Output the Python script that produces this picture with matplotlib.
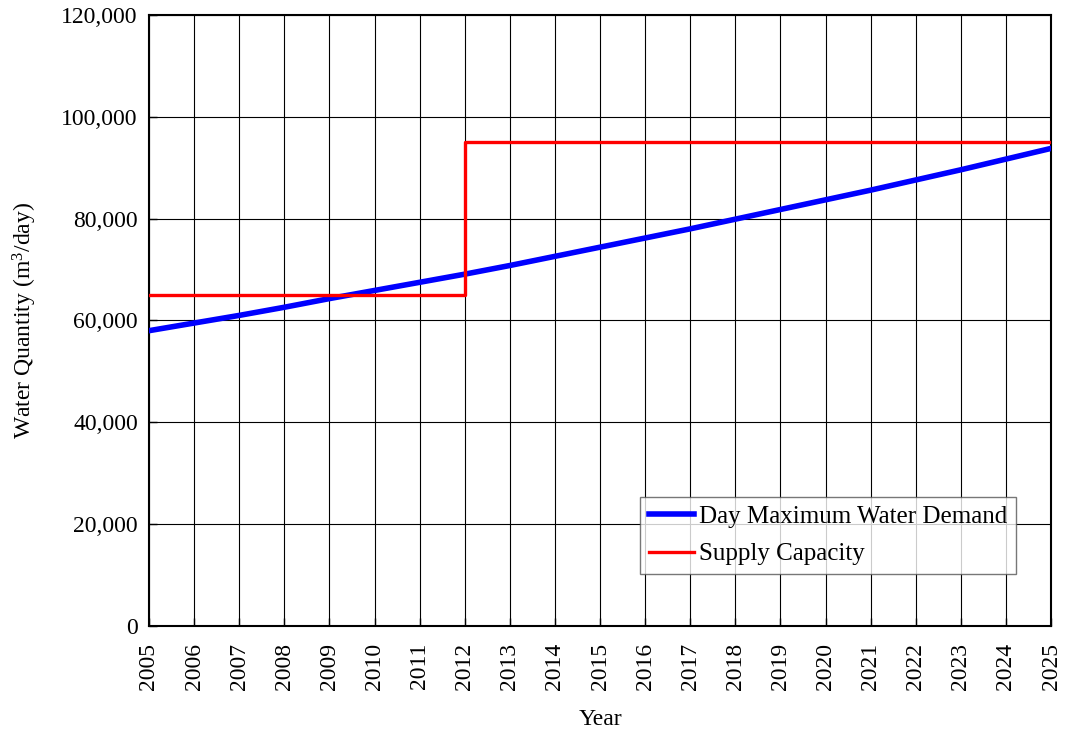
import matplotlib
matplotlib.use('agg')
import matplotlib.pyplot as plt
from matplotlib.ticker import FuncFormatter

# data
years = list(range(2005, 2026))
demand = [58000, 59500, 61000, 62600, 64300, 65900, 67500, 69100, 70800, 72600,
          74400, 76200, 78000, 79900, 81800, 83700, 85600, 87600, 89600, 91700, 93800]
supply_years = [2005, 2012, 2012, 2025]
supply = [65000, 65000, 95000, 95000]

plt.rcParams['font.family'] = ['Liberation Serif', 'DejaVu Serif']
plt.rcParams['mathtext.fontset'] = 'custom'
plt.rcParams['mathtext.rm'] = 'Liberation Serif'

fig = plt.figure(figsize=(10.65, 7.35), dpi=100)
ax = fig.add_axes([0.1399, 0.1483, 0.8470, 0.8313])

ax.plot(years, demand, color='#0000ff', lw=4.0, label='Day Maximum Water Demand', zorder=3)
ax.plot(supply_years, supply, color='#ff0000', lw=2.4, label='Supply Capacity', zorder=4)

ax.set_xlim(2005, 2025)
ax.set_ylim(0, 120000)
ax.set_xticks(years)
ax.set_yticks(range(0, 120001, 20000))
ax.yaxis.set_major_formatter(FuncFormatter(lambda v, p: '{:,.0f}'.format(v)))
ax.grid(True, color='black', lw=0.8)
ax.tick_params(direction='in', length=6, labelsize=17, width=1)
ax.tick_params(axis='y', pad=8)
ax.tick_params(axis='x', labelrotation=90, pad=12)
for s in ax.spines.values():
    s.set_linewidth(1.5)

ax.set_xlabel('Year', fontsize=17, labelpad=14)
ax.set_ylabel('Water Quantity (m$\\mathrm{^3}$/day)', fontsize=17, labelpad=16)

leg = ax.legend(loc='lower right', bbox_to_anchor=(0.961, 0.085), borderaxespad=0,
                fontsize=18, frameon=True, fancybox=False, edgecolor='#555555',
                handlelength=1.8, handletextpad=0.2, borderpad=0.35, labelspacing=0.6)
leg.get_frame().set_linewidth(1.0)

plt.savefig('out.png', dpi=100)
